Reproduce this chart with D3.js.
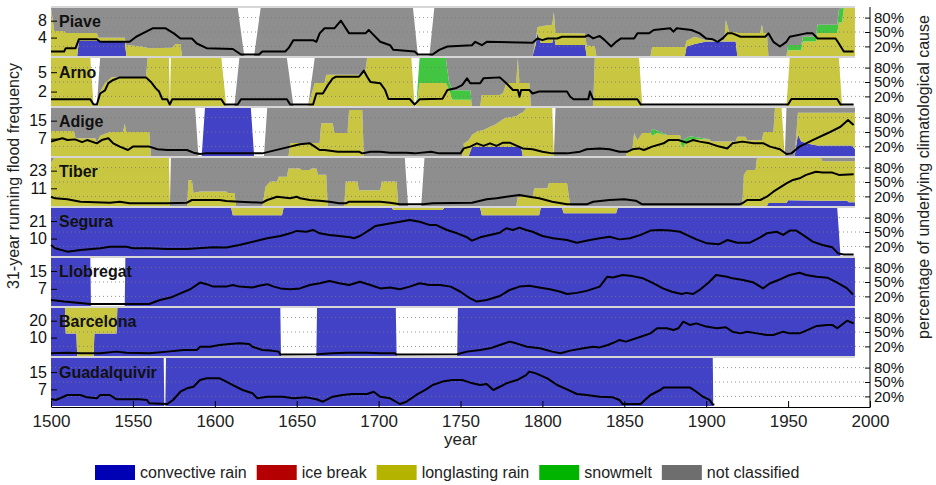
<!DOCTYPE html>
<html>
<head>
<meta charset="utf-8">
<script src="https://cdn.jsdelivr.net/npm/d3@7"></script>
<style>
  body { margin: 0; background: #fff; }
  text { font-family: "Liberation Sans", Arial, sans-serif; }
</style>
</head>
<body>
<script>
var w = 936;
var h = 485;

// ---- data ----
var rivers = ['Piave', 'Arno', 'Adige', 'Tiber', 'Segura', 'Llobregat', 'Barcelona', 'Guadalquivir'];
var freqMax = [11, 7.2, 20.6, 31.6, 29.2, 20.8, 27.5, 21.5];
var freqTicks = [[4, 8], [2, 5], [7, 15], [11, 23], [10, 21], [7, 15], [10, 20], [7, 15]];
var pctTicks = [20, 50, 80];
var yearTicks = [1500, 1550, 1600, 1650, 1700, 1750, 1800, 1850, 1900, 1950, 2000];

var causeKeys = ['conv', 'ice', 'long', 'snow', 'none'];
var causeNames = ['convective rain', 'ice break', 'longlasting rain', 'snowmelt', 'not classified'];

// 31-year running flood frequency: [year, count]
var piaveFreq = [[1500,0.7],[1508,0.7],[1509,1.5],[1515,1.5],[1517,3.6],[1528,3.6],[1530,3.0],[1548,3.0],[1552,4.2],[1556,5.0],[1562,6.2],[1570,6.2],[1575,5.0],[1579,3.8],[1586,3.8],[1589,2.6],[1595,1.5],[1611,1.3],[1616,0],[1627,0],[1629,0.7],[1643,0.7],[1645,1.5],[1648,3.4],[1660,3.4],[1662,3.0],[1664,5.0],[1667,6.2],[1673,6.2],[1677,8.0],[1682,5.0],[1692,5.0],[1694,5.8],[1696,5.0],[1701,3.0],[1707,2.2],[1709,1.1],[1722,0.7],[1724,0],[1733,0],[1737,1.1],[1742,1.9],[1757,2.2],[1759,3.0],[1763,2.2],[1766,3.0],[1794,2.8],[1797,3.8],[1800,3.4],[1803,3.8],[1809,3.8],[1812,4.2],[1826,4.2],[1828,4.6],[1831,3.8],[1835,4.4],[1838,3.4],[1842,1.9],[1845,3.0],[1848,3.8],[1856,3.8],[1858,5.0],[1865,5.0],[1868,5.8],[1878,6.2],[1880,5.4],[1882,6.2],[1891,5.8],[1896,5.0],[1900,3.8],[1904,3.6],[1907,3.0],[1910,3.8],[1913,5.0],[1916,5.0],[1921,4.2],[1936,4.2],[1938,5.0],[1941,3.0],[1945,1.9],[1949,3.0],[1951,4.2],[1961,5.0],[1965,5.0],[1968,3.8],[1979,3.8],[1981,2.6],[1984,0.7],[1990,0.7]];
var arnoFreq = [[1500,0.8],[1524,0.8],[1526,0],[1528,0],[1530,1.7],[1533,2.2],[1535,3.3],[1538,3.8],[1542,4.2],[1558,4.2],[1561,3.5],[1564,2.5],[1566,2.0],[1568,0.8],[1571,0.8],[1572.5,0],[1574,0.8],[1604,0.8],[1606,0],[1614,0],[1616,0.8],[1644,0.8],[1646,0],[1660,0],[1662,1.7],[1666,1.7],[1669,3.0],[1672,4.05],[1674,4.3],[1688,4.3],[1689,4.6],[1691,5.24],[1693,4.3],[1695,3.5],[1701,3.3],[1704,2.24],[1706,0.85],[1719,0.85],[1722,0],[1725,0.8],[1739,0.9],[1742,2.24],[1747,2.5],[1751,3.0],[1754,4.05],[1756,3.28],[1762,3.28],[1764,4.05],[1774,4.2],[1778,3.28],[1782,2.24],[1785,2.24],[1786,1.2],[1787,2.24],[1792,2.24],[1794,1.7],[1798,2.0],[1815,2.0],[1817,1.2],[1819,0.8],[1828,0.8],[1829,2.0],[1831,0.8],[1858,0.8],[1860,0],[1950,0],[1952,0.85],[1980,0.85],[1982,0],[1990,0]];
var adigeFreq = [[1500,5.7],[1503,6.4],[1507,7.2],[1510,6.4],[1514.6,6.7],[1519,5.5],[1522,6.4],[1528,4.95],[1531,6.4],[1535,7.2],[1538,4.95],[1542,3.5],[1547,2.0],[1550,3.5],[1560,3.5],[1565,2.3],[1571,2.0],[1583,2.0],[1587,0.8],[1591,0.2],[1594,0.5],[1629,0.5],[1646,3.5],[1650,4.2],[1652,4.5],[1658,4.95],[1661,3.5],[1664,2.0],[1667,2.0],[1675,1.25],[1688,1.25],[1690,0.5],[1695,1.25],[1701,1.25],[1707,0.8],[1717,0.8],[1722,0.5],[1732,1.25],[1737,0.5],[1750,0.5],[1752,2.7],[1756,3.5],[1760,4.95],[1764,3.8],[1768,4.95],[1772,3.8],[1776,5.24],[1780,5.24],[1784.5,3.8],[1788,2.7],[1794,2.3],[1800,1.25],[1806,0.5],[1815,0.5],[1823,1.25],[1827,2.3],[1835,2.7],[1841,2.3],[1847,1.25],[1852,1.25],[1855,2.3],[1859,2.7],[1862,2.0],[1867,3.5],[1874,4.95],[1877,6.4],[1883,6.4],[1888,5.24],[1892,6.4],[1896,5.7],[1902,4.95],[1908,3.5],[1913,2.7],[1916,4.95],[1922,5.7],[1929,4.95],[1935,4.95],[1939,3.5],[1945,2.3],[1949,0.2],[1952,0.5],[1957,3.5],[1961,4.95],[1965,6.4],[1974,9.4],[1982,12.3],[1986.6,15.3],[1990,13.1]];
var tiberFreq = [[1500,5.3],[1502.5,4.2],[1510,3.5],[1518,1.9],[1536,1.25],[1542,1.9],[1548,0.8],[1571,0.8],[1583,1.25],[1586,3.06],[1603,3.06],[1607,2.4],[1615,1.9],[1629,1.25],[1632,3.06],[1638,5.3],[1646,4.2],[1650,5.3],[1652,4.2],[1658,3.06],[1664,2.6],[1670,1.9],[1676,0.8],[1680,0.8],[1682,1.9],[1701,1.9],[1707,1.25],[1713,0.1],[1727,0.1],[1733,0.8],[1757,1.25],[1766,3.5],[1772,4.2],[1778,5.3],[1786,6.5],[1792,5.3],[1798,4.2],[1806,1.9],[1815,0.1],[1827,0.1],[1831,1.9],[1841,3.06],[1850,3.5],[1857,2.6],[1861,0.1],[1920,0.1],[1922,0.8],[1925,3.06],[1933,3.06],[1937,5.3],[1941,8.7],[1949,14.4],[1953,16.7],[1957,17.8],[1961,20.1],[1967,22.3],[1971,21.7],[1977,21.7],[1981,20.1],[1990,20.5]];
var seguraFreq = [[1500,6],[1502.5,3.9],[1510,1.8],[1518,2.8],[1530,3.9],[1536,4.9],[1546,4.9],[1550,3.9],[1560,3.9],[1571,3.4],[1583,3.4],[1599,4.6],[1607,4.4],[1615,6],[1627.6,9.1],[1632,10.2],[1640,11.6],[1646,13.3],[1650,14.8],[1656,14.3],[1660,15.4],[1664,13.3],[1670,12.3],[1676,11.6],[1682.5,10.8],[1685,10.2],[1688.6,11.6],[1695,15.8],[1698,17.9],[1705,19.2],[1713,20.6],[1719,21.7],[1725,20.6],[1731,18.6],[1735,18.6],[1741.7,15.4],[1748,13.3],[1754,10.8],[1757,8.7],[1762,10.8],[1768,12.3],[1774,13.7],[1778,16.5],[1782,15.4],[1786,16.9],[1790,15.4],[1794,14.3],[1800,11.6],[1806.5,10.2],[1815,9.1],[1821,7.4],[1829,9.1],[1835,10.2],[1841,11.2],[1847,9.5],[1853.5,10.2],[1860,12.3],[1866,15],[1872,15.4],[1878,15],[1884,14.3],[1888,12.3],[1894,9.5],[1900.5,7],[1908,6.5],[1913,9.1],[1919,7.4],[1926.7,7.4],[1933,10.8],[1937,13.3],[1943,14.3],[1947,12.3],[1951,15],[1955,15],[1959,12.3],[1965,8.1],[1971,6],[1977,4.5],[1980.5,0.7],[1984,0],[1990,0]];
var llobregatFreq = [[1500,2.0],[1508,1.3],[1524,0.2],[1545,0.2],[1560,0.2],[1566.5,2.0],[1573,3.1],[1579,5.0],[1585,6.8],[1591,9.8],[1595,9.1],[1599,8.0],[1607,8.0],[1611,8.7],[1615,8.0],[1623,7.6],[1627,8.4],[1632,9.1],[1636,8.0],[1640,7.2],[1646,6.8],[1652,7.2],[1658,8.7],[1664,9.5],[1670,10.5],[1676,9.5],[1682,8.7],[1688.6,10.2],[1695,8.7],[1701,7.2],[1707,7.6],[1713,6.8],[1719,8.0],[1725,9.5],[1731,8.7],[1737.5,8.7],[1744,8.0],[1750,5.7],[1756,2.7],[1760,1.3],[1766,2.0],[1774,3.8],[1780,6.5],[1786,8.0],[1792,8.4],[1798,7.6],[1804.6,6.8],[1811,5.7],[1815,4.7],[1821,5.2],[1827,6.1],[1835,8.0],[1839.5,12.4],[1843,12.1],[1849,13.2],[1855,12.7],[1861.4,11.7],[1867,9.8],[1873.6,7.2],[1879,5.7],[1885,4.7],[1888,5.2],[1892,4.7],[1896,6.5],[1902,10.2],[1906,13.2],[1912.7,12.4],[1916,11.7],[1922.5,11.0],[1929,9.8],[1934.7,7.2],[1939,9.5],[1945,11.2],[1951,13.2],[1957,14.2],[1961,13.2],[1967.5,12.4],[1974,12.0],[1980,9.8],[1986,7.2],[1989.6,4.5]];
var barcelonaFreq = [[1500,0.7],[1510,1.1],[1518,0.7],[1530,0.7],[1540,1.7],[1546,1.1],[1560,0.7],[1571,1.7],[1581,2.7],[1589,2.7],[1591,4.6],[1597,4.6],[1603,5.6],[1609,6.2],[1615,6.6],[1621,6.2],[1623,4.6],[1629,2.7],[1634,2.3],[1639,1.7],[1640,0],[1662,0.1],[1672,0.7],[1681,1.1],[1693,1.1],[1701,0.7],[1710,0.7],[1711,0],[1748,0.1],[1754,1.7],[1762,2.7],[1768,3.65],[1774,5.6],[1780,7.6],[1784,6.6],[1790.6,4.6],[1798.5,3.65],[1806,1.7],[1811,0.7],[1817,2.3],[1825,3.65],[1831,4.6],[1835,4.2],[1840,5.6],[1845,7.6],[1847,8.6],[1851,7.6],[1860,10.5],[1866,12.5],[1870,15.5],[1876,15.5],[1880,14.5],[1883,15.5],[1886,19.4],[1890,17.5],[1894,18.4],[1900,16.5],[1906.5,15.5],[1912,16.1],[1916,13.5],[1921,12.5],[1925,13.5],[1931,12.5],[1937,11.5],[1941,11.5],[1947,13.5],[1951,12.5],[1957,12.5],[1961,14.1],[1967.5,16.9],[1974,17.5],[1977,17.5],[1980,15.5],[1986,20],[1990,18.4]];
var guadalquivirFreq = [[1500,2.4],[1503,2.1],[1510,4.4],[1518,4.4],[1522,3.3],[1528,2.85],[1530,4.4],[1536,4.4],[1540,2.4],[1554,2.4],[1558.6,2.1],[1560,0.54],[1571,0.23],[1574.5,2.1],[1579,5.9],[1583,7.5],[1587,8.2],[1591,11.3],[1595,12.1],[1603,12.1],[1607,10.6],[1611,9.0],[1617,6.7],[1623,5.2],[1626,2.85],[1632,3.6],[1641.6,3.6],[1648,2.85],[1656,3.3],[1662,2.4],[1666,1.3],[1672,3.6],[1678,4.4],[1684,4.85],[1693,4.85],[1697,5.9],[1701,3.6],[1707,2.85],[1713,0.23],[1717,1.3],[1723,4.4],[1729,7.0],[1733,9.0],[1739,10.6],[1745,11.3],[1751,11.3],[1756,10.1],[1762,9.0],[1766,9.5],[1770,6.7],[1774,8.2],[1778,9.8],[1784.5,11.3],[1790,13.6],[1792,15.2],[1796,14.4],[1803,12.1],[1809,9.0],[1815,7.0],[1821,4.85],[1827,4.4],[1835,3.6],[1843,3.3],[1847,2.1],[1849,0.23],[1860,0.23],[1861.4,1.3],[1866,4.4],[1872,6.7],[1874,7.9],[1890,7.9],[1894,5.9],[1898,3.6],[1902,2.1],[1904,0],[1905,0]];

// share of underlying cause in %: [year, convective, longlasting, snowmelt, not classified] (ice break is 0 throughout)
var piaveCause = [[1500,0,100,0,0],[1502,0,52,0,48],[1508,0,52,0,48],[1509,0,48,0,52],[1516,0,48,0,52],[1517,32,16,0,52],[1528,32,16,0,52],[1529,32,6,0,62],[1545,32,6,0,62],[1546,0,23,0,77],[1555,0,20,0,80],[1560,0,16,0,84],[1574,0,17,0,83],[1576,0,25,0,75],[1579,0,25,0,75],[1580,0,0,0,100],[1614,0,0,0,100],[1618,0,0,0,0],[1624,0,0,0,0],[1628,0,0,0,100],[1721,0,0,0,100],[1724,0,0,0,0],[1731,0,0,0,0],[1734,0,0,0,100],[1794,0,0,0,100],[1796,25,10,0,65],[1797,48,12,0,40],[1799,27,35,0,38],[1806,27,38,0,35],[1807,44,48,0,8],[1808,23,25,0,52],[1826,23,24,0,53],[1827,0,22,0,78],[1832,0,20,0,80],[1833,0,0,0,100],[1866,0,0,0,100],[1867,0,19,0,81],[1887,0,19,0,81],[1888,20,12,0,68],[1893,25,15,0,60],[1900,30,3,0,67],[1911,30,3,0,67],[1912,30,45,0,25],[1914,30,20,0,50],[1918,30,20,0,50],[1919,0,48,0,52],[1933,0,48,0,52],[1934,0,65,0,35],[1935,0,48,0,52],[1937,0,48,0,52],[1938,0,0,0,100],[1949,0,0,0,100],[1950,0,12,11,77],[1958,0,12,11,77],[1959,0,30,10,60],[1967,0,30,10,60],[1968,0,48,17,35],[1980,0,48,17,35],[1981,0,70,26,4],[1983,0,70,30,0],[1984,0,100,0,0],[1990.8,0,100,0,0]];
var arnoCause = [[1500,0,100,0,0],[1524,0,100,0,0],[1526,0,0,0,0],[1528,0,0,0,0],[1530,0,30,0,70],[1533,0,48,0,52],[1537,0,60,0,40],[1558,0,60,0,40],[1559,0,100,0,0],[1572,0,100,0,0],[1572.6,0,0,0,0],[1573.2,0,100,0,0],[1604,0,100,0,0],[1607,0,0,0,0],[1612,0,0,0,0],[1615,0,0,0,100],[1644,0,0,0,100],[1648,0,0,0,0],[1657,0,0,0,0],[1661,0,48,0,52],[1667,0,48,0,52],[1668,0,65,0,35],[1690,0,65,0,35],[1692,0,75,0,25],[1693,0,100,0,0],[1720,0,100,0,0],[1722,0,0,0,0],[1723,0,0,0,0],[1725,0,48,52,0],[1741,0,48,52,0],[1743,0,35,15,50],[1745,0,13,20,67],[1756,0,13,20,67],[1757,0,0,0,100],[1762,0,0,0,100],[1763,0,23,0,77],[1774,0,23,0,77],[1776,0,27,0,73],[1778,0,48,0,52],[1784,0,48,0,52],[1785,0,100,0,0],[1786,0,48,0,52],[1792,0,48,0,52],[1793,0,0,0,100],[1831,0,0,0,100],[1832,0,100,0,0],[1859,0,100,0,0],[1861,0,0,0,0],[1949,0,0,0,0],[1951,0,100,0,0],[1981,0,100,0,0],[1983,0,0,0,0],[1990.8,0,0,0,0]];
var adigeCause = [[1500,0,52,0,48],[1514,0,52,0,48],[1515,0,37,0,63],[1527,0,37,0,63],[1528,0,27,0,73],[1530,0,42,0,58],[1536,0,50,0,50],[1544,0,50,0,50],[1545,0,67,0,33],[1546,0,50,0,50],[1560,0,50,0,50],[1561,0,0,0,100],[1588,0,0,0,100],[1590,0,0,0,0],[1592,0,0,0,0],[1594,100,0,0,0],[1622,100,0,0,0],[1624,0,0,0,0],[1630,0,0,0,0],[1632,0,0,0,100],[1645,0,0,0,100],[1646,0,27,0,73],[1664,0,27,0,73],[1665,0,68,0,32],[1672,0,68,0,32],[1673,0,48,0,52],[1681,0,48,0,52],[1682,0,96,0,4],[1690,0,96,0,4],[1691,0,0,0,100],[1751,0,0,0,100],[1752,0,26,0,74],[1755,0,33,0,67],[1757,19,25,0,56],[1760,19,32,0,49],[1764,19,35,0,46],[1768,19,42,0,39],[1771,19,46,0,35],[1774,19,53,0,28],[1777,19,60,0,21],[1784,19,64,0,17],[1787,19,71,0,10],[1788,0,90,0,10],[1790,0,100,0,0],[1806,0,100,0,0],[1807,0,0,0,0],[1808,0,0,0,100],[1851,0,0,0,100],[1852,0,12,0,88],[1855,0,15,0,85],[1856,0,48,0,52],[1858,0,33,0,67],[1861,0,48,0,52],[1866,0,48,0,52],[1867,0,42,15,43],[1870,0,48,5,47],[1876,0,44,0,56],[1884,0,44,0,56],[1885,0,17,15,68],[1890,0,35,6,59],[1902,0,35,0,65],[1903,0,30,0,70],[1918,0,30,0,70],[1919,0,40,0,60],[1924,0,40,0,60],[1925,0,33,0,67],[1934,0,33,0,67],[1935,0,50,0,50],[1941,0,50,0,50],[1942,0,100,0,0],[1946,0,100,0,0],[1948,0,0,0,0],[1949,0,0,0,100],[1954,0,0,0,100],[1956,45,45,0,10],[1958,30,60,0,10],[1963,25,65,0,10],[1968,22,68,0,10],[1989,22,68,0,10],[1990.8,14,76,0,10]];
var tiberCause = [[1500,0,90,0,10],[1502,0,100,0,0],[1572,0,100,0,0],[1572.6,0,0,0,0],[1573.2,0,0,0,100],[1583,0,0,0,100],[1584,0,54,0,46],[1586,0,54,0,46],[1587,0,27,0,73],[1591,0,30,0,70],[1607,0,30,0,70],[1608,0,27,0,73],[1612,0,27,0,73],[1613,0,0,0,100],[1629,0,0,0,100],[1631,0,40,0,60],[1634,0,51,0,49],[1638,0,51,0,49],[1639,0,61,0,39],[1644,0,61,0,39],[1645,0,78,0,22],[1652,0,78,0,22],[1653,0,75,0,25],[1658,0,75,0,25],[1659,0,78,0,22],[1662,0,78,0,22],[1663,0,65,0,35],[1668,0,65,0,35],[1669,0,0,0,100],[1679,0,0,0,100],[1680,0,51,0,49],[1687,0,51,0,49],[1688,0,33,0,67],[1701,0,33,0,67],[1702,0,51,0,49],[1711,0,51,0,49],[1712,0,0,0,100],[1716,0,0,0,100],[1718,0,0,0,0],[1726,0,0,0,0],[1728,0,0,0,100],[1784,0,0,0,100],[1785,0,19,0,81],[1794,0,19,0,81],[1795,0,37,0,63],[1803,0,37,0,63],[1804,0,48,0,52],[1815,0,48,0,52],[1817,0,0,0,100],[1922,0,0,0,100],[1923,0,65,0,35],[1925,0,75,0,25],[1930,0,75,0,25],[1931,0,100,0,0],[1937,0,100,0,0],[1938,6,94,0,0],[1949,6,94,0,0],[1950,12,88,0,0],[1970,11,89,0,0],[1971,11,82,0,7],[1986,11,82,0,7],[1987,8,85,0,7],[1990.8,8,85,0,7]];
var seguraCause = [[1500,100,0,0,0],[1610,100,0,0,0],[1611,85,15,0,0],[1641,85,15,0,0],[1642,100,0,0,0],[1708,100,0,0,0],[1709,96,4,0,0],[1739,96,4,0,0],[1740,100,0,0,0],[1762,100,0,0,0],[1763,85,15,0,0],[1798,85,15,0,0],[1799,100,0,0,0],[1812,100,0,0,0],[1813,89,11,0,0],[1845,89,11,0,0],[1846,100,0,0,0],[1980,100,0,0,0],[1982,0,0,0,0],[1990.8,0,0,0,0]];
var llobregatCause = [[1500,100,0,0,0],[1524,100,0,0,0],[1524.4,0,0,0,0],[1545,0,0,0,0],[1545.4,100,0,0,0],[1990.8,100,0,0,0]];
var barcelonaCause = [[1500,100,0,0,0],[1508.5,100,0,0,0],[1509,47,53,0,0],[1515.5,47,53,0,0],[1516,0,100,0,0],[1526,0,100,0,0],[1526.5,47,53,0,0],[1540,47,53,0,0],[1540.5,100,0,0,0],[1640,100,0,0,0],[1640.4,0,0,0,0],[1662,0,0,0,0],[1662.4,100,0,0,0],[1710.5,100,0,0,0],[1711,0,0,0,0],[1748,0,0,0,0],[1748.4,100,0,0,0],[1990.8,100,0,0,0]];
var guadalquivirCause = [[1500,100,0,0,0],[1568.8,100,0,0,0],[1569.2,0,0,0,0],[1569.8,0,0,0,0],[1570.2,100,0,0,0],[1904,100,0,0,0],[1904.3,0,0,0,0],[1990.8,0,0,0,0]];

var freqs = [piaveFreq, arnoFreq, adigeFreq, tiberFreq, seguraFreq, llobregatFreq, barcelonaFreq, guadalquivirFreq];
var causes = [piaveCause, arnoCause, adigeCause, tiberCause, seguraCause, llobregatCause, barcelonaCause, guadalquivirCause];

// ---- style ----
var areaColor = { conv: '#4242c6', ice: '#c64242', long: '#c9c642', snow: '#42c642', none: '#8e8e8e' };
var keyColor = { conv: '#0000b4', ice: '#b40000', long: '#b4b400', snow: '#00b400', none: '#6e6e6e' };
var font = '"Liberation Sans", Arial, sans-serif';

var left = 51, right = 870, dataEnd = 855;
var top0 = 8, panelH = 48, step = 50;
var axisY = 407;

var x = d3.scaleLinear().domain([1500, 2000]).range([left, right]);
var stack = d3.stack().keys(causeKeys);

var svg = d3.select('body').append('svg')
  .attr('width', w)
  .attr('height', h);

rivers.forEach(function (name, i) {
  var top = top0 + i * step;
  var bot = top + panelH;
  var yPct = d3.scaleLinear().domain([0, 100]).range([bot, top]);
  var yFreq = d3.scaleLinear().domain([0, freqMax[i]]).range([bot - 1.5, top]);

  var rows = causes[i].map(function (r) {
    return { year: r[0], conv: r[1], ice: 0, long: r[2], snow: r[3], none: r[4] };
  });

  var g = svg.append('g');

  // separator above the panel
  g.append('rect')
    .attr('x', left).attr('y', top - 2)
    .attr('width', dataEnd - left).attr('height', 2)
    .attr('fill', '#d6d6d6');

  var area = d3.area()
    .x(function (d) { return x(d.data.year); })
    .y0(function (d) { return yPct(d[0]); })
    .y1(function (d) { return yPct(d[1]); });

  g.selectAll('path.cause')
    .data(stack(rows))
    .join('path')
      .attr('class', 'cause')
      .attr('fill', function (d) { return areaColor[d.key]; })
      .attr('d', area);

  // dotted percentage grid
  g.selectAll('line.grid')
    .data(pctTicks)
    .join('line')
      .attr('class', 'grid')
      .attr('x1', left).attr('x2', right - 4)
      .attr('y1', function (d) { return yPct(d); })
      .attr('y2', function (d) { return yPct(d); })
      .attr('stroke', '#7a7a7a')
      .attr('stroke-width', 1)
      .attr('stroke-dasharray', '1,3')
      .attr('opacity', 0.8);

  // flood frequency
  g.append('path')
    .datum(freqs[i])
    .attr('fill', 'none')
    .attr('stroke', '#000')
    .attr('stroke-width', 2)
    .attr('stroke-linejoin', 'round')
    .attr('d', d3.line()
      .x(function (d) { return x(d[0]); })
      .y(function (d) { return yFreq(d[1]); }));

  // left axis (frequency)
  var la = g.append('g')
    .attr('transform', 'translate(' + left + ',0)')
    .call(d3.axisLeft(yFreq).tickValues(freqTicks[i]).tickSize(-6).tickPadding(4));
  la.select('.domain').remove();
  la.selectAll('text').attr('font-size', 16).attr('font-family', font).attr('fill', '#111');

  // right axis (percentage)
  var ra = g.append('g')
    .attr('transform', 'translate(' + right + ',0)')
    .call(d3.axisRight(yPct).tickValues(pctTicks).tickFormat(function (d) { return d + '%'; }).tickSize(-5).tickPadding(4));
  ra.select('.domain').remove();
  ra.selectAll('text').attr('font-size', 15).attr('font-family', font).attr('fill', '#111');

  // river name
  g.append('text')
    .attr('x', left + 8)
    .attr('y', yFreq(freqTicks[i][1]) + 6)
    .attr('font-size', 16)
    .attr('font-weight', 'bold')
    .attr('fill', '#111')
    .text(name);
});

// bottom axis
var xa = svg.append('g')
  .attr('transform', 'translate(0,' + axisY + ')')
  .call(d3.axisBottom(x).tickValues(yearTicks).tickFormat(d3.format('d')).tickSize(-6).tickSizeOuter(0).tickPadding(8));
xa.selectAll('text').attr('font-size', 17).attr('font-family', font).attr('fill', '#222');
xa.select('.domain').attr('stroke', '#000');

// right vertical axis line
svg.append('line')
  .attr('x1', right).attr('x2', right)
  .attr('y1', top0 - 1).attr('y2', axisY)
  .attr('stroke', '#000');

// axis titles
svg.append('text')
  .attr('transform', 'translate(' + ((left + right) / 2) + ',445)')
  .attr('text-anchor', 'middle')
  .attr('font-size', 17)
  .attr('fill', '#222')
  .text('year');

svg.append('text')
  .attr('transform', 'translate(19,176) rotate(-90)')
  .attr('text-anchor', 'middle')
  .attr('font-size', 16)
  .attr('fill', '#222')
  .text('31-year running flood frequency');

svg.append('text')
  .attr('transform', 'translate(929,177) rotate(-90)')
  .attr('text-anchor', 'middle')
  .attr('font-size', 16)
  .attr('fill', '#222')
  .text('percentage of underlying climatological cause');

// legend
var lx = 95;
causeKeys.forEach(function (k, i) {
  svg.append('rect')
    .attr('x', lx).attr('y', 465)
    .attr('width', 40).attr('height', 15)
    .attr('fill', keyColor[k]);
  var t = svg.append('text')
    .attr('x', lx + 45).attr('y', 478)
    .attr('font-size', 16)
    .attr('fill', '#222')
    .text(causeNames[i]);
  lx += 45 + t.node().getComputedTextLength() + 10;
});
</script>
</body>
</html>
